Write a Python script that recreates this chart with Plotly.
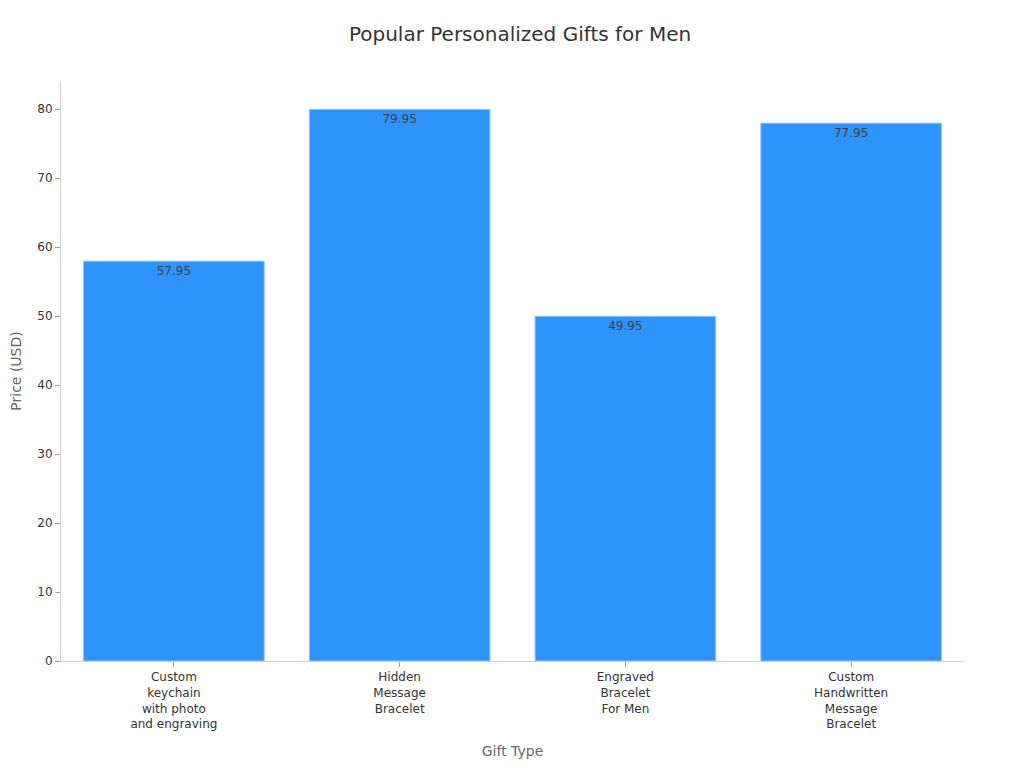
import plotly.graph_objects as go

categories = [
    "Custom<br>keychain<br>with photo<br>and engraving",
    "Hidden<br>Message<br>Bracelet",
    "Engraved<br>Bracelet<br>For Men",
    "Custom<br>Handwritten<br>Message<br>Bracelet",
]
prices = [57.95, 79.95, 49.95, 77.95]
price_labels = ["57.95", "79.95", "49.95", "77.95"]

fig = go.Figure(
    go.Bar(
        x=categories,
        y=prices,
        text=price_labels,
        textposition="inside",
        insidetextanchor="end",
        textangle=0,
        textfont={"color": "#3d3d3d", "size": 12},
        marker={"color": "#2e93fa", "line": {"color": "#8cc4fb", "width": 1}},
        hovertemplate="%{x}<br>%{y:.2f} USD<extra></extra>",
    )
)

# the page adds a ~7px offset, so margins are shifted to keep the plot in place
fig.update_layout(
    title={
        "text": "Popular Personalized Gifts for Men",
        "x": 0.5,
        "xanchor": "center",
        "yref": "container",
        "y": 0.966,
        "yanchor": "middle",
        "font": {"size": 20, "color": "#333333"},
    },
    font={"family": "DejaVu Sans", "size": 12, "color": "#333333"},
    template="plotly_white",
    width=1024,
    height=768,
    margin={"l": 53, "r": 68, "t": 73, "b": 115},
    bargap=0.2,
    showlegend=False,
    plot_bgcolor="white",
)
fig.update_xaxes(
    title={"text": "Gift Type", "font": {"size": 14, "color": "#666666"}},
    showline=True,
    linecolor="#d0d0d0",
    ticks="outside",
    ticklen=5,
    tickcolor="#999999",
    showgrid=False,
)
fig.update_yaxes(
    title={"text": "Price (USD)", "font": {"size": 14, "color": "#666666"}},
    range=[0, 84.06],
    dtick=10,
    showline=True,
    linecolor="#d0d0d0",
    ticks="outside",
    ticklen=5,
    tickcolor="#999999",
    showgrid=False,
    zeroline=False,
    automargin=False,
)

fig.write_html("out.html")
